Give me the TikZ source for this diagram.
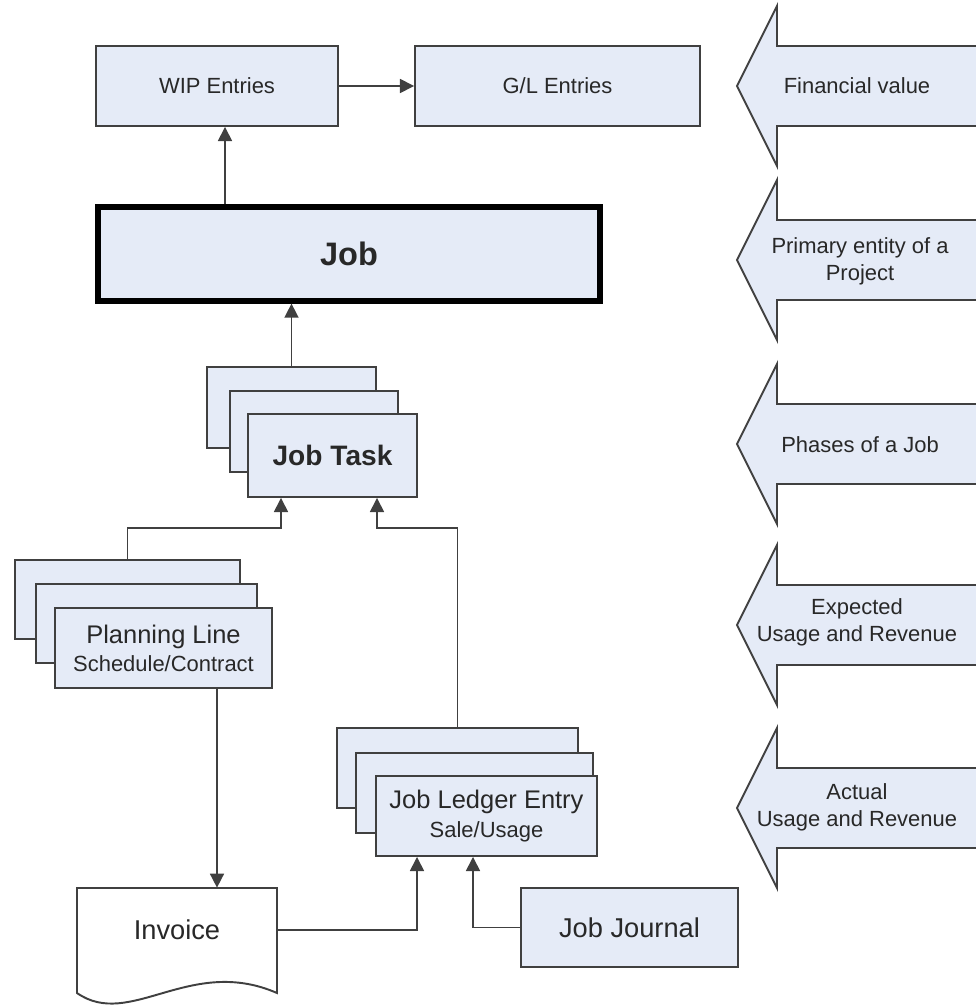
\documentclass[tikz,border=0pt]{standalone}
\usepackage{fontspec}
\setmainfont{Liberation Sans}
\usetikzlibrary{arrows.meta,calc}
\definecolor{boxfill}{RGB}{229,235,247}
\definecolor{bord}{RGB}{64,64,64}
\definecolor{txt}{RGB}{40,40,40}
\newcommand\sidearrow[1]{%
  \fill[boxfill] (976,#1-40) -- (777,#1-40) -- (777,#1-80) -- (737,#1) -- (777,#1+80) -- (777,#1+40) -- (976,#1+40) -- cycle;
  \draw[bord,line width=1.1pt,line join=miter] (976,#1-40) -- (777,#1-40) -- (777,#1-80) -- (737,#1) -- (777,#1+80) -- (777,#1+40) -- (976,#1+40);}
\begin{document}
\begin{tikzpicture}[x=0.02cm,y=-0.02cm,
  bx/.style 2 args={draw=bord,fill=boxfill,line width=1.1pt,minimum width={#1*0.02cm},minimum height={#2*0.02cm},inner sep=0pt,text=txt,align=center},
  small/.style={font=\fontsize{12.5}{15}\selectfont},
  arr/.style={draw=bord,line width=0.9pt,-{Triangle[length=8pt,width=8pt]}},
  lbl/.style={text=txt,align=center,font=\fontsize{12.5}{15.5}\selectfont,inner sep=0pt}]
\useasboundingbox (0,0) rectangle (976,1007);
\fill[white] (0,0) rectangle (976,1007);
% top row
\node[bx={242}{80},small] (wip) at (217,86) {WIP Entries};
\node[bx={285}{80},small] (gl) at (557.5,86) {G/L Entries};
% job
\node[bx={502}{94},draw=black,line width=3pt,font=\fontsize{18.5}{22}\selectfont\bfseries] (job) at (349,254) {Job};
% job task stack
\node[bx={169}{81}] (jtb) at (291.5,407.5) {};
\node[bx={168}{81}] (jtm) at (314,431.5) {};
\node[bx={169}{83},font=\fontsize{16}{19}\selectfont\bfseries] (jt) at (332.5,455.5) {Job Task};
% planning line stack
\node[bx={225}{79}] (plb) at (127.5,599.5) {};
\node[bx={221}{79}] (plm) at (146.5,623.5) {};
\node[bx={217}{80}] (pl) at (163.5,648) {{\fontsize{14.5}{17}\selectfont Planning Line}\\[3pt]{\fontsize{12.5}{15}\selectfont Schedule/Contract}};
% job ledger stack
\node[bx={241}{80}] (jlb) at (457.5,768) {};
\node[bx={237}{80}] (jlm) at (474.5,793) {};
\node[bx={221}{80}] (jl) at (486.5,816) {{\fontsize{14.5}{17}\selectfont Job Ledger Entry}\\[3pt]{\fontsize{12.5}{15}\selectfont Sale/Usage}};
% invoice
\draw[bord,line width=1.1pt,fill=white] (77,888) -- (277,888) -- (277,993) .. controls (190,955) and (130,1030) .. (77,993) -- cycle;
\node[minimum width={200*0.02cm},minimum height={84*0.02cm},inner sep=0pt,text=txt,font=\fontsize{15.5}{18}\selectfont] (inv) at (177,930) {Invoice};
% job journal
\node[bx={217}{79},font=\fontsize{15.5}{18}\selectfont] (jj) at (629.5,927.5) {Job Journal};
% helper coordinates
\coordinate (c225) at (225,0);
\coordinate (ca) at (281,528);
\coordinate (cb) at (377,528);
\coordinate (c217) at (217,0);
\coordinate (c417) at (417,0);
\coordinate (c473) at (473,0);
% connectors
\draw[arr] (wip.east) -- (gl.west);
\draw[arr] (job.north -| c225) -- (wip.south -| c225);
\draw[arr] (jtb.north) -- (jtb.north |- job.south);
\draw[arr] (plb.north) |- (ca) -- (ca |- jt.south);
\draw[arr] (jlb.north) |- (cb) -- (cb |- jt.south);
\draw[arr] (pl.south -| c217) -- (inv.north -| c217);
\draw[arr] (inv.east) -| (jl.south -| c417);
\draw[arr] (jj.west) -| (jl.south -| c473);
% side arrows
\sidearrow{86}
\sidearrow{260}
\sidearrow{444}
\sidearrow{625}
\sidearrow{808}
\node[lbl] (l1) at (857,86) {Financial value};
\node[lbl] (l2) at (860,261) {Primary entity of a\\Project};
\node[lbl] (l3) at (860,445) {Phases of a Job};
\node[lbl] (l4) at (857,622) {Expected\\Usage and Revenue};
\node[lbl] (l5) at (857,807) {Actual\\Usage and Revenue};
\end{tikzpicture}
\end{document}
